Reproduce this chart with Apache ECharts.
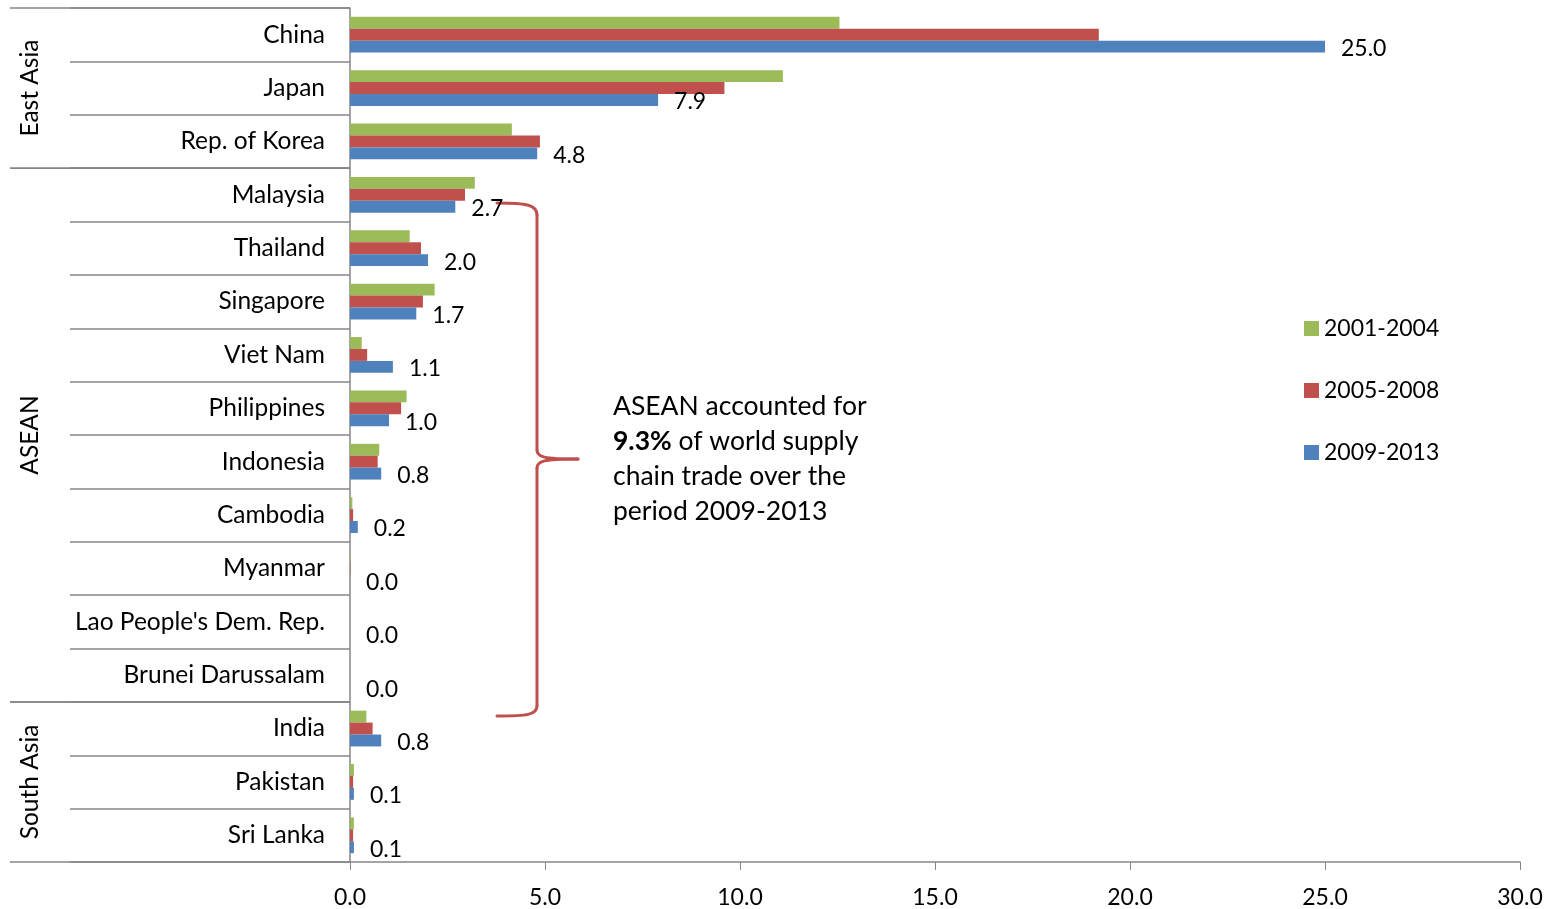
<!DOCTYPE html>
<html>
<head>
<meta charset="utf-8">
<script src="https://cdn.jsdelivr.net/npm/echarts@6/dist/echarts.min.js"></script>
<style>
  html, body { margin: 0; padding: 0; background: #fff; }
  #chart { width: 1562px; height: 909px; }
</style>
</head>
<body>
<div id="chart"></div>
<script>
// Supply chain trade share by economy (%), three periods
const countries = ['China', 'Japan', 'Rep. of Korea', 'Malaysia', 'Thailand', 'Singapore',
  'Viet Nam', 'Philippines', 'Indonesia', 'Cambodia', 'Myanmar', "Lao People's Dem. Rep.",
  'Brunei Darussalam', 'India', 'Pakistan', 'Sri Lanka'];
const p2001_2004 = [12.55, 11.1, 4.15, 3.2, 1.53, 2.17, 0.3, 1.45, 0.75, 0.06, 0.01, 0.0, 0.0, 0.42, 0.1, 0.1];
const p2005_2008 = [19.2, 9.6, 4.87, 2.95, 1.82, 1.87, 0.44, 1.31, 0.71, 0.08, 0.01, 0.0, 0.0, 0.58, 0.08, 0.08];
const p2009_2013 = [25.0, 7.9, 4.8, 2.7, 2.0, 1.7, 1.1, 1.0, 0.8, 0.2, 0.0, 0.0, 0.0, 0.8, 0.1, 0.1];
const xTicks = { min: 0, max: 30, step: 5 };
// Regional groups: name, first and last country in the group
const regions = [
  { name: 'East Asia', from: 'China', to: 'Rep. of Korea' },
  { name: 'ASEAN', from: 'Malaysia', to: 'Brunei Darussalam' },
  { name: 'South Asia', from: 'India', to: 'Sri Lanka' }
];

const FONT = 'Lato, "Open Sans", sans-serif';
const GRAY = '#868686';
const COLORS = ['#9BBB59', '#C0504D', '#4F81BD'];

const chart = echarts.init(document.getElementById('chart'), null, { renderer: 'canvas' });

const option = {
  animation: false,
  color: COLORS,
  textStyle: { fontFamily: FONT },
  grid: { left: 350, right: 42, top: 8, bottom: 46, containLabel: false },
  legend: {
    orient: 'vertical',
    left: 1299,
    top: 312,
    itemWidth: 15,
    itemHeight: 15,
    itemGap: 39,
    icon: 'rect',
    textStyle: { fontSize: 23, color: '#000', fontFamily: FONT },
    data: ['2001-2004', '2005-2008', '2009-2013']
  },
  xAxis: {
    type: 'value',
    min: xTicks.min,
    max: xTicks.max,
    interval: xTicks.step,
    axisLine: { show: true, lineStyle: { color: GRAY, width: 1.5 } },
    axisTick: { show: true, length: 8, lineStyle: { color: GRAY } },
    splitLine: { show: false },
    axisLabel: {
      fontSize: 23, color: '#000', margin: 24, fontFamily: FONT,
      formatter: v => v.toFixed(1)
    }
  },
  yAxis: {
    type: 'category',
    inverse: true,
    data: countries,
    axisLine: { show: true, lineStyle: { color: GRAY, width: 1.5 } },
    axisTick: { show: true, length: 280, lineStyle: { color: GRAY, width: 1.5 } },
    axisLabel: { fontSize: 24.5, color: '#000', margin: 25, fontFamily: FONT }
  },
  series: [
    { name: '2001-2004', type: 'bar', data: p2001_2004, barGap: '0%', barCategoryGap: '33%' },
    { name: '2005-2008', type: 'bar', data: p2005_2008, barGap: '0%', barCategoryGap: '33%' },
    {
      name: '2009-2013', type: 'bar', data: p2009_2013, barGap: '0%', barCategoryGap: '33%',
      label: {
        show: true, position: 'right', distance: 16, fontSize: 23, color: '#000',
        fontFamily: FONT, offset: [0, 2], formatter: p => p.value.toFixed(1)
      }
    }
  ]
};
chart.setOption(option);

// Region dividers and rotated region names
function bandEdges(name) {
  const idx = countries.indexOf(name);
  const c = chart.convertToPixel({ yAxisIndex: 0 }, idx);
  const c2 = chart.convertToPixel({ yAxisIndex: 0 }, idx === 0 ? 1 : idx - 1);
  const half = Math.abs(c - c2) / 2;
  return { top: c - half, bottom: c + half, center: c };
}

const axisX = chart.convertToPixel({ xAxisIndex: 0 }, 0);
const graphics = [];
regions.forEach(r => {
  const top = bandEdges(r.from).top;
  const bottom = bandEdges(r.to).bottom;
  [top, bottom].forEach(y => graphics.push({
    type: 'line', silent: true,
    shape: { x1: 10, y1: y, x2: axisX, y2: y },
    style: { stroke: GRAY, lineWidth: 1.5 }
  }));
  graphics.push({
    type: 'text', silent: true,
    x: 30, y: (top + bottom) / 2, rotation: Math.PI / 2,
    style: {
      text: r.name, fontSize: 24.5, fontFamily: FONT, fill: '#000',
      align: 'center', verticalAlign: 'middle'
    }
  });
});

// Curly brace spanning the ASEAN members, built from curves and straight runs
const BRACE = '#C0504D';
const bxl = 497, bx = 537, tip = 578;
const bTop = 203, bMid = 459, bBot = 716;
function curve(x1, y1, c1x, c1y, c2x, c2y, x2, y2) {
  return {
    type: 'bezierCurve', silent: true,
    shape: { x1, y1, cpx1: c1x, cpy1: c1y, cpx2: c2x, cpy2: c2y, x2, y2 },
    style: { stroke: BRACE, lineWidth: 3, fill: null, lineCap: 'round' }
  };
}
function seg(x1, y1, x2, y2) {
  return {
    type: 'line', silent: true,
    shape: { x1, y1, x2, y2 },
    style: { stroke: BRACE, lineWidth: 3, lineCap: 'round' }
  };
}
graphics.push(
  curve(bxl, bTop, bx - 10, bTop, bx, bTop + 2, bx, bTop + 12),
  seg(bx, bTop + 12, bx, bMid - 9),
  curve(bx, bMid - 9, bx, bMid - 2, bx + 6, bMid, tip, bMid),
  curve(tip, bMid, bx + 6, bMid, bx, bMid + 2, bx, bMid + 9),
  seg(bx, bMid + 9, bx, bBot - 10),
  curve(bx, bBot - 10, bx, bBot - 1, bx - 10, bBot, bxl, bBot)
);

// Note beside the brace
graphics.push({
  type: 'text', silent: true,
  x: 613, y: 389,
  style: {
    text: 'ASEAN accounted for\n{b|9.3%} of world supply\nchain trade over the\nperiod 2009-2013',
    fontSize: 26.5, fontFamily: FONT, fill: '#000', lineHeight: 35,
    rich: { b: { fontWeight: 'bold', fontSize: 26.5, fontFamily: FONT, lineHeight: 35 } }
  }
});

chart.setOption({ graphic: { elements: graphics } });
</script>
</body>
</html>
